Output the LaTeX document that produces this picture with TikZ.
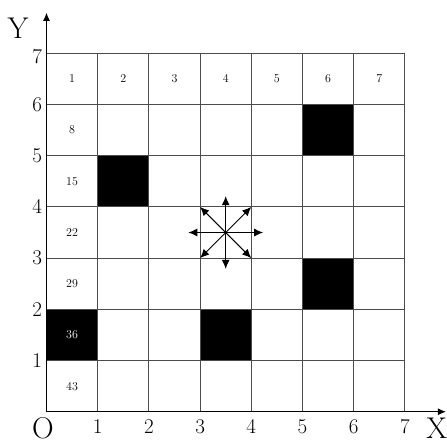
\documentclass[tikz,border=0pt]{standalone}
\usetikzlibrary{arrows.meta}
\begin{document}
\begin{tikzpicture}[x=51.2pt,y=51.2pt,
  gridline/.style={draw=black!70,line width=1pt},
  blk/.style={fill=black},
  cellnum/.style={font=\fontsize{12}{14}\selectfont},
  axnum/.style={font=\fontsize{21}{24}\selectfont},
  axname/.style={font=\fontsize{30}{33}\selectfont},
  mv/.style={line width=1pt,-{Latex[length=9pt,width=8pt]}}]
\useasboundingbox (-0.908,-0.631) rectangle (7.822,8.041);
% black cells
\fill[blk] (5,5) rectangle (6,6);
\fill[blk] (1,4) rectangle (2,5);
\fill[blk] (5,2) rectangle (6,3);
\fill[blk] (0,1) rectangle (1,2);
\fill[blk] (3,1) rectangle (4,2);
% grid
\foreach \i in {1,...,7} {
  \draw[gridline] (\i,0) -- (\i,7);
  \draw[gridline] (0,\i) -- (7,\i);
}
% cell numbers
\foreach \c in {1,...,7} \node[cellnum] (t\c) at (\c-0.5,6.5) {\c};
\node[cellnum] (c8) at (0.5,5.5) {8};
\node[cellnum] (c15) at (0.5,4.5) {15};
\node[cellnum] (c22) at (0.5,3.5) {22};
\node[cellnum] (c29) at (0.5,2.5) {29};
\node[cellnum,text=white] (c36) at (0.5,1.5) {36};
\node[cellnum] (c43) at (0.5,0.5) {43};
% axes
\coordinate (O) at (0,0);
\coordinate (xend) at (7.80,0);
\coordinate (yend) at (0,7.79);
\draw[line width=0.9pt,-{Latex[length=8pt,width=7pt]}] (O) -- (xend);
\draw[line width=0.9pt,-{Latex[length=8pt,width=7pt]}] (O) -- (yend);
\node[axname] (ylab) at (-0.557,7.49) {Y};
\node[axname] (xlab) at (7.62,-0.33) {X};
\node[axname] (olab) at (-0.07,-0.33) {O};
\foreach \k in {1,...,6} \node[axnum,anchor=east] (yn\k) at (-0.02,\k) {\k};
\node[axnum,anchor=east] (yn7) at (-0.02,6.93) {7};
\foreach \k in {1,...,7} \node[axnum] (xn\k) at (\k,-0.29) {\k};
% movement arrows
\coordinate (ctr) at (3.5,3.5);
\coordinate (aE) at (4.23,3.5);
\coordinate (aW) at (2.77,3.5);
\coordinate (aN) at (3.5,4.21);
\coordinate (aS) at (3.5,2.79);
\coordinate (aNE) at (4,4);
\coordinate (aNW) at (3,4);
\coordinate (aSE) at (4,3);
\coordinate (aSW) at (3,3);
\foreach \t in {aE,aW,aN,aS,aNE,aNW,aSE,aSW} \draw[mv] (ctr) -- (\t);
\end{tikzpicture}
\end{document}
